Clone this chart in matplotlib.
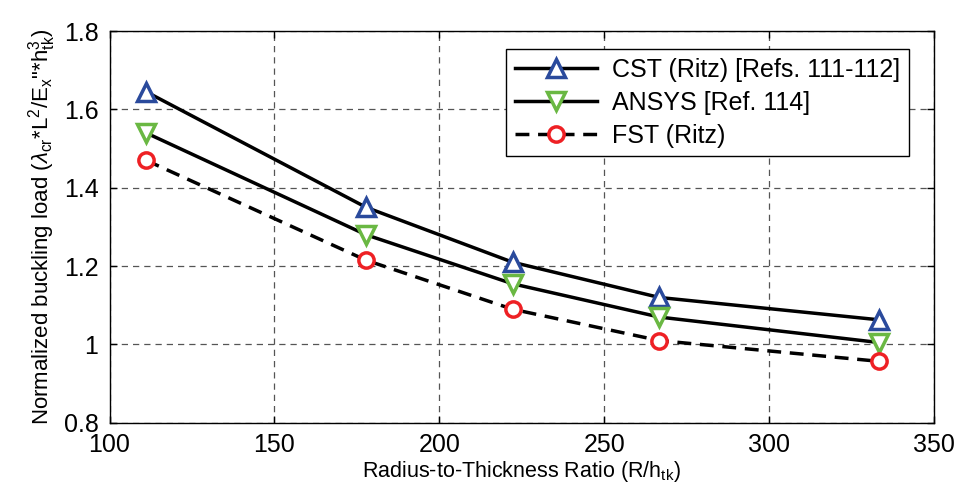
"""Normalized buckling load against radius-to-thickness ratio."""
import numpy as np
from matplotlib import pyplot as plt
import matplotlib as mpl

mpl.rcParams["font.family"] = "Liberation Sans"
mpl.rcParams["mathtext.fontset"] = "custom"
mpl.rcParams["mathtext.rm"] = "Liberation Sans"
mpl.rcParams["mathtext.it"] = "Liberation Sans:italic"
mpl.rcParams["mathtext.sf"] = "Liberation Sans"
mpl.rcParams["xtick.direction"] = "in"
mpl.rcParams["ytick.direction"] = "in"

ratio = [111.1, 177.8, 222.2, 266.7, 333.3]
cst = [1.645, 1.350, 1.210, 1.120, 1.063]
ansys = [1.540, 1.280, 1.155, 1.070, 1.005]
fst = [1.470, 1.215, 1.090, 1.010, 0.957]

xticks = list(range(100, 351, 50))
yticks = [0.8, 1.0, 1.2, 1.4, 1.6, 1.8]
ytick_labels = ["0.8", "1", "1.2", "1.4", "1.6", "1.8"]

fig = plt.figure(figsize=(9.61, 5.01), dpi=100)
ax = fig.add_axes([0.114, 0.156, 0.858, 0.782])

ax.plot(ratio, cst, "-", color="black", lw=2.5, marker="^", ms=13,
        mfc="white", mec="#2a4a9c", mew=2.5, label="CST (Ritz) [Refs. 111-112]")
ax.plot(ratio, ansys, "-", color="black", lw=2.5, marker="v", ms=13,
        mfc="white", mec="#6ab843", mew=2.5, label="ANSYS [Ref. 114]")
ax.plot(ratio, fst, "--", color="black", lw=2.5, marker="o", ms=11,
        mfc="white", mec="#ee2024", mew=2.5, label="FST (Ritz)", dashes=(4, 2.5))

ax.set_xlim(100, 350)
ax.set_ylim(0.8, 1.8)
ax.set_xticks(xticks)
ax.set_yticks(yticks)
ax.set_yticklabels(ytick_labels)
ax.tick_params(labelsize=18, top=True, right=True, length=5, width=1)
ax.tick_params(axis="x", pad=7)
ax.tick_params(axis="y", pad=8)
ax.grid(True, color="#555555", linestyle=(0, (5, 4)), linewidth=0.9)
for sp in ax.spines.values():
    sp.set_linewidth(1)

ax.set_xlabel(r"Radius-to-Thickness Ratio (R/h$_{\mathrm{tk}}$)", fontsize=15.5,
              labelpad=2)
ax.set_ylabel(r'Normalized buckling load ($\lambda_{\mathrm{cr}}$*L$^{2}$/E$_{\mathrm{x}}$"*h$^{3}_{\mathrm{tk}}$)',
              fontsize=16, labelpad=4)

leg = ax.legend(loc="upper right", fontsize=18, fancybox=False, framealpha=1,
                edgecolor="black", handlelength=3.3, borderpad=0.35,
                labelspacing=0.35, handletextpad=0.6,
                bbox_to_anchor=(0.985, 0.985))
leg.get_frame().set_linewidth(1)

plt.savefig("out.png", dpi=100)
plt.close()
